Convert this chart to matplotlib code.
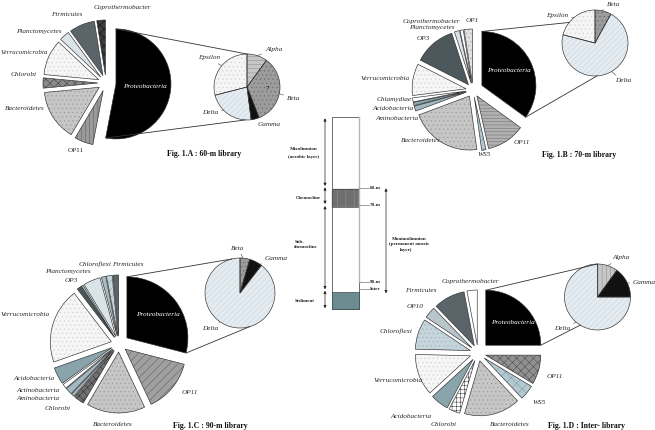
import numpy as np
import matplotlib.pyplot as plt

plt.rcParams['hatch.linewidth'] = 0.35
H = 430

# ---------------- data (percent of clones) ----------------
# main pies listed clockwise starting at 12 o'clock
a_names = ["Proteobacteria", "OP11", "Bacteroidetes", "Chlorobi", "Verrucomicrobia",
           "Planctomycetes", "Firmicutes", "Coprothermobacter"]
a_vals = [53, 5.5, 15, 3, 10.5, 3, 7.5, 2.5]
a_sub_names = ["Alpha", "Beta", "Gamma", "Delta", "Epsilon"]
a_sub_vals = [10, 34, 4, 23, 29]

b_names = ["Proteobacteria", "OP11", "WS5", "Bacteroidetes", "Aminobacteria", "Acidobacteria",
           "Chlamydiae", "Verrucomicrobia", "OP3", "Planctomycetes", "Coprothermobacter", "OP1"]
b_vals = [35, 11.5, 1.3, 21.5, 1.5, 1, 1.2, 9.5, 12.5, 1.5, 1, 2.5]
b_sub_names = ["Beta", "Delta", "Epsilon"]
b_sub_vals = [8, 71, 21]

c_names = ["Proteobacteria", "OP11", "Bacteroidetes", "Chlorobi", "", "Aminobacteria",
           "Actinobacteria", "Acidobacteria", "Verrucomicrobia", "OP3", "", "Planctomycetes",
           "", "Chloroflexi", "Firmicutes"]
c_vals = [29, 14, 15.5, 2.8, 0.8, 1.8, 1.2, 4.5, 20, 1.2, 0.5, 4.5, 1.2, 1.5, 1.5]
c_sub_names = ["Beta", "Gamma", "Delta"]
c_sub_vals = [4.5, 6, 89.5]

d_names = ["Proteobacteria", "OP11", "WS5", "Bacteroidetes", "Chlorobi", "Acidobacteria",
           "Verrucomicrobia", "Chloroflexi", "OP10", "Firmicutes", "Coprothermobacter"]
d_vals = [25, 8.6, 4.4, 16.5, 3.3, 5.4, 12.2, 9, 3.4, 9.2, 3]
d_sub_names = ["Alpha", "Gamma", "Delta"]
d_sub_vals = [10, 15, 75]

# ---------------- styles ----------------
style = {
    "Proteobacteria": ("#000000", None, None),
    "OP11": ("#9a9a9a", "||||", "#5a5a5a"),
    "Bacteroidetes": ("#c6c6c6", "....", "#9a9a9a"),
    "Chlorobi": ("#8a8a8a", "xxxx", "#3a3a3a"),
    "Verrucomicrobia": ("#f6f6f6", "....", "#d0d0d0"),
    "Planctomycetes": ("#d9e3e8", None, None),
    "Firmicutes": ("#5b6569", None, None),
    "Coprothermobacter": ("#ffffff", None, None),
    "WS5": ("#b3c8d0", "xxx", "#7f98a0"),
    "Aminobacteria": ("#a3b8c0", None, None),
    "Acidobacteria": ("#8aa4ac", None, None),
    "Actinobacteria": ("#ffffff", None, None),
    "Chlamydiae": ("#ffffff", None, None),
    "OP3": ("#4d585c", None, None),
    "OP1": ("#e2e2e2", "....", "#a0a0a0"),
    "OP10": ("#b8c6cb", None, None),
    "Chloroflexi": ("#c6d5dc", "....", "#9fb2ba"),
    "": ("#a9bcc4", None, None),
    "Alpha": ("#c6c6c6", "----", "#8a8a8a"),
    "Beta": ("#9c9c9c", "....", "#6a6a6a"),
    "Gamma": ("#111111", None, None),
    "Delta": ("#e4ebf1", "//////", "#c9d3db"),
    "Epsilon": ("#f5f5f5", "....", "#cfcfcf"),
}
override = {
    ("a", "Coprothermobacter"): ("#3c3c3c", "xxxx", "#111111"),
    ("b", "OP11"): ("#b0b0b0", "-----", "#707070"),
    ("c", "OP11"): ("#a0a0a0", "////", "#5a5a5a"),
    ("c", "Chloroflexi"): ("#c6d5dc", "////", "#7f98a0"),
    ("c", "Chlorobi"): ("#707070", "xxxx", "#2a2a2a"),
    ("d", "OP11"): ("#909090", "xxxx", "#4a4a4a"),
    ("d", "Chlorobi"): ("#ffffff", "++++", "#333333"),
    ("d", "Alpha"): ("#c6c6c6", "||||", "#8a8a8a"),
}

fig = plt.figure(figsize=(6.55, 4.30), dpi=100)
ax = fig.add_axes([0, 0, 1, 1])

serif = "Liberation Serif"


def draw_pie(key, names, vals, center, r, explode):
    cx, cy = center
    st = [override.get((key, n), style[n]) for n in names]
    w1, _ = ax.pie(vals, colors=[s[0] for s in st], startangle=90, counterclock=False,
                   center=(cx, H - cy), radius=r, explode=explode, frame=True,
                   wedgeprops=dict(linewidth=0))
    for w, s in zip(w1, st):
        if s[1]:
            w.set_hatch(s[1])
            w.set_edgecolor(s[2])
    w2, _ = ax.pie(vals, startangle=90, counterclock=False, center=(cx, H - cy),
                   radius=r, explode=explode, frame=True,
                   wedgeprops=dict(fill=False, edgecolor='#2e2e2e', linewidth=0.45))
    return w2


def rim(w, ang):
    cx, cy = w.center
    return (cx + w.r * np.cos(np.radians(ang)), cy + w.r * np.sin(np.radians(ang)))


def connect(p, q):
    ax.plot([p[0], q[0]], [p[1], q[1]], color='#333333', lw=0.6)


def lab(x, y, s, ha='left', color='#2a2a2a', style_='italic', size=5.2):
    ax.text(x, H - y, s, ha=ha, va='center', fontsize=size, family=serif,
            style=style_, color=color)


def leader(x, y, s, w, ang, ha='left'):
    p = rim(w, ang)
    ax.annotate(s, xy=p, xytext=(x, H - y), ha=ha, va='center', fontsize=5.2,
                family=serif, style='italic', color='#2a2a2a',
                arrowprops=dict(arrowstyle='-', lw=0.4, color='#444444',
                                shrinkA=0.5, shrinkB=0))


def title(x, y, s):
    ax.text(x, H - y, s, ha='left', va='center', fontsize=5.6, family=serif,
            weight='bold', color='#111111')


# explode offsets are in data (pixel) units
# ---------------- Fig 1.A ----------------
wa = draw_pie("a", a_names, a_vals, (106, 83), 55, [10] + [8] * 7)
wa_s = draw_pie("a", a_sub_names, a_sub_vals, (247, 87), 33, None)
connect(rim(wa[0], wa[0].theta2), rim(wa_s[0], 90))
connect(rim(wa[0], wa[0].theta1), rim(wa_s[0], -93))
lab(145, 87, a_names[0], ha='center', color='white')
lab(94, 8, a_names[7])
lab(83, 15, a_names[6], ha='right')
lab(62, 32, a_names[5], ha='right')
lab(1, 52, a_names[4], ha='left', size=5.0)
lab(37, 74, a_names[3], ha='right')
lab(45, 109, a_names[2], ha='right')
lab(76, 150, a_names[1], ha='center', style_='normal')
leader(265, 50, a_sub_names[0], wa_s[0], 72)
leader(287, 98, a_sub_names[1], wa_s[1], -12)
leader(258, 125, a_sub_names[2], wa_s[2], -78)
leader(218, 113, a_sub_names[3], wa_s[3], -135, ha='right')
leader(220, 58, a_sub_names[4], wa_s[4], 140, ha='right')
lab(267, 89, "7", ha='center', style_='normal', color='#111111')
title(167, 154, "Fig. 1.A : 60-m library")

# ---------------- Fig 1.B ----------------
wb = draw_pie("b", b_names, b_vals, (473, 90), 54, [10] + [7] * 11)
wb_s = draw_pie("b", b_sub_names, b_sub_vals, (595, 43), 33, None)
connect(rim(wb[0], wb[0].theta2), rim(wb_s[0], 141.5))
connect(rim(wb[0], wb[0].theta1), rim(wb_s[0], -86.5))
lab(509, 70, b_names[0], ha='center', color='white')
lab(514, 142, b_names[1])
lab(484, 154, b_names[2], ha='center')
lab(441, 141, b_names[3], ha='right')
lab(419, 118, b_names[4], ha='right')
lab(414, 109, b_names[5], ha='right')
lab(412, 100, b_names[6], ha='right')
lab(410, 79, b_names[7], ha='right')
lab(430, 39, b_names[8], ha='right')
lab(455, 28, b_names[9], ha='right')
lab(460, 22, b_names[10], ha='right')
lab(466, 21, b_names[11])
leader(607, 4, b_sub_names[0], wb_s[0], 78)
leader(615, 81, b_sub_names[1], wb_s[1], -60)
leader(568, 15, b_sub_names[2], wb_s[2], 130, ha='right')
title(542, 155, "Fig. 1.B : 70-m library")

# ---------------- Fig 1.C ----------------
wc = draw_pie("c", c_names, c_vals, (119, 344), 61, [10] + [8] * 14)
wc_s = draw_pie("c", c_sub_names, c_sub_vals, (240, 293), 35, None)
connect(rim(wc[0], wc[0].theta2), rim(wc_s[0], 103.7))
connect(rim(wc[0], wc[0].theta1), rim(wc_s[0], -73.6))
lab(158, 315, c_names[0], ha='center', color='white')
lab(182, 392, c_names[1])
lab(113, 424, c_names[2], ha='center')
lab(71, 408, c_names[3], ha='right')
lab(60, 398, c_names[5], ha='right')
lab(60, 390, c_names[6], ha='right')
lab(55, 379, c_names[7], ha='right')
lab(50, 314, c_names[8], ha='right')
lab(78, 281, c_names[9], ha='right')
lab(91, 272, c_names[11], ha='right')
lab(79, 264, c_names[13])
lab(112, 264, c_names[14])
leader(238, 248, c_sub_names[0], wc_s[0], 85, ha='center')
leader(265, 259, c_sub_names[1], wc_s[1], 55)
leader(218, 328, c_sub_names[2], wc_s[2], -125, ha='right')
title(173, 426, "Fig. 1.C : 90-m library")

# ---------------- Fig 1.D ----------------
wd = draw_pie("d", d_names, d_vals, (478, 353), 55, [11] + [8] * 10)
wd_s = draw_pie("d", d_sub_names, d_sub_vals, (597.5, 297), 33, None)
connect(rim(wd[0], wd[0].theta2), rim(wd_s[0], 90))
connect(rim(wd[0], wd[0].theta1), rim(wd_s[0], -121.5))
lab(513, 323, d_names[0], ha='center', color='white')
lab(547, 376, d_names[1])
lab(533, 402, d_names[2])
lab(510, 424, d_names[3], ha='center')
lab(457, 425, d_names[4], ha='right')
lab(432, 416, d_names[5], ha='right')
lab(423, 381, d_names[6], ha='right')
lab(412, 331, d_names[7], ha='right')
lab(424, 307, d_names[8], ha='right')
lab(437, 290, d_names[9], ha='right')
lab(442, 281, d_names[10])
leader(612, 258, d_sub_names[0], wd_s[0], 72)
leader(633, 282, d_sub_names[1], wd_s[1], 25)
leader(570, 328, d_sub_names[2], wd_s[2], -130, ha='right')
title(548, 426, "Fig. 1.D : Inter- library")

# ---------------- water column schematic ----------------
col_x0, col_x1 = 331.7, 359
col_top, col_bot = 116.7, 309.3
chemo = (189.3, 206.7)
sed = (292.3, 309.3)
ax.add_patch(plt.Rectangle((col_x0, H - col_bot), col_x1 - col_x0, col_bot - col_top,
                           facecolor='white', edgecolor='#555555', lw=0.6))
ax.add_patch(plt.Rectangle((col_x0, H - chemo[1]), col_x1 - col_x0, chemo[1] - chemo[0],
                           facecolor='#6f6f6f', edgecolor='#9a9a9a', hatch='||', lw=0.3))
ax.add_patch(plt.Rectangle((col_x0, H - chemo[1]), col_x1 - col_x0, chemo[1] - chemo[0],
                           fill=False, edgecolor='#444444', lw=0.5))
ax.add_patch(plt.Rectangle((col_x0, H - sed[1]), col_x1 - col_x0, sed[1] - sed[0],
                           facecolor='#6c8c91', edgecolor='#3a4a4d', lw=0.5))
ax.plot([col_x1, col_x1], [H - col_top, H - 281.7], color='#b5b5b5', lw=1.0)

marks = [("60-m", 188.3), ("70-m", 205.0), ("90-m", 281.7), ("Inter", 289.3)]
for name, y in marks:
    ax.plot([col_x1, 369], [H - y, H - y], color='#777777', lw=0.5)
    ax.text(370, H - y, name, ha='left', va='center', fontsize=3.6, family=serif,
            weight='bold', color='#222222')

layers = [(118.3, 186.0), (187.3, 204.0), (206.0, 289.3), (290.7, 308.3)]
for y0, y1 in layers:
    ax.annotate("", xy=(325, H - y0), xytext=(325, H - y1),
                arrowprops=dict(arrowstyle='<|-|>', lw=0.5, color='#222222',
                                mutation_scale=4, shrinkA=0, shrinkB=0))
ax.annotate("", xy=(386, H - 188.3), xytext=(386, H - 293.3),
            arrowprops=dict(arrowstyle='<|-|>', lw=0.5, color='#222222',
                            mutation_scale=4, shrinkA=0, shrinkB=0))


def tiny(x, y, s, ha='center'):
    ax.text(x, H - y, s, ha=ha, va='center', fontsize=3.6, family=serif,
            weight='bold', color='#222222')


tiny(304, 149.3, "Mixolimnion")
tiny(304, 157.3, "(aerobic layer)")
tiny(308, 197.7, "Chemocline")
tiny(294.3, 241.7, "Sub-", ha='left')
tiny(294.3, 247.3, "chemocline", ha='left')
tiny(294.3, 301, "Sediment", ha='left')
tiny(409, 239, "Monimolimnion")
tiny(409, 244.5, "(permanent anoxic")
tiny(406.5, 250, "layer)")

ax.set_xlim(0, 655)
ax.set_ylim(0, H)
ax.set_aspect('equal')
ax.axis('off')
fig.savefig("out.png", dpi=100)
